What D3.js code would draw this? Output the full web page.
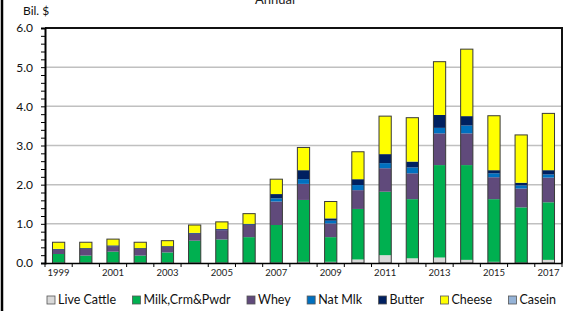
<!DOCTYPE html>
<html>
<head>
<meta charset="utf-8">
<script src="https://cdn.jsdelivr.net/npm/d3@7"></script>
<style>
  body { margin: 0; background: #fff; }
  svg { display: block; font-family: Lato, 'Open Sans', sans-serif; }
</style>
</head>
<body>
<svg width="565" height="311"></svg>
<script>
const years = ['1999', '2000', '2001', '2002', '2003', '2004', '2005', '2006', '2007', '2008',
  '2009', '2010', '2011', '2012', '2013', '2014', '2015', '2016', '2017'];

// billions of dollars, stacked bottom to top
const liveCattle = [0.01, 0.01, 0.01, 0.01, 0.01, 0.01, 0.01, 0.01, 0.01, 0.03, 0.03, 0.09, 0.20, 0.12, 0.14, 0.08, 0.03, 0.01, 0.08];
const milkCrmPwdr = [0.22, 0.18, 0.28, 0.18, 0.26, 0.56, 0.59, 0.65, 0.96, 1.58, 0.63, 1.29, 1.62, 1.51, 2.36, 2.42, 1.60, 1.41, 1.47];
const whey = [0.11, 0.17, 0.13, 0.17, 0.14, 0.17, 0.24, 0.31, 0.60, 0.41, 0.35, 0.48, 0.60, 0.66, 0.81, 0.81, 0.56, 0.48, 0.63];
const natMlk = [0.00, 0.00, 0.00, 0.00, 0.00, 0.01, 0.01, 0.01, 0.08, 0.12, 0.07, 0.13, 0.13, 0.15, 0.14, 0.20, 0.10, 0.08, 0.08];
const butter = [0.02, 0.02, 0.03, 0.02, 0.02, 0.02, 0.02, 0.02, 0.11, 0.23, 0.06, 0.15, 0.23, 0.15, 0.33, 0.24, 0.08, 0.07, 0.11];
const cheese = [0.17, 0.15, 0.16, 0.15, 0.14, 0.20, 0.18, 0.26, 0.38, 0.58, 0.43, 0.70, 0.97, 1.12, 1.36, 1.71, 1.39, 1.22, 1.45];
const casein = [0, 0, 0, 0, 0, 0, 0, 0, 0, 0, 0, 0, 0, 0, 0, 0, 0, 0, 0];

const seriesNames = ['Live Cattle', 'Milk,Crm&Pwdr', 'Whey', 'Nat Mlk', 'Butter', 'Cheese', 'Casein'];
const seriesValues = [liveCattle, milkCrmPwdr, whey, natMlk, butter, cheese, casein];
const colors = ['#d9d9d9', '#00b050', '#604a7b', '#0070c0', '#002060', '#ffff00', '#95b3d7'];

const yTicks = [0, 1, 2, 3, 4, 5, 6];

const plotLeft = 45, plotRight = 562, plotTop = 28, plotBottom = 263;

const svg = d3.select('svg');

const rows = years.map((yr, i) => {
  const r = { year: yr };
  seriesNames.forEach((n, k) => { r[n] = seriesValues[k][i]; });
  return r;
});

const stack = d3.stack().keys(seriesNames)(rows);

const x = d3.scaleBand()
  .domain(years)
  .range([plotLeft, plotRight])
  .paddingInner(0.55)
  .paddingOuter(0.275);

const y = d3.scaleLinear()
  .domain([0, 6])
  .range([plotBottom, plotTop]);

const color = d3.scaleOrdinal().domain(seriesNames).range(colors);

// outer chart border (left edge only visible)
svg.append('line')
  .attr('x1', 2).attr('x2', 2).attr('y1', 0).attr('y2', 311)
  .attr('stroke', '#000').attr('stroke-width', 2.5);

// title, cut at the top
svg.append('text')
  .attr('x', 275).attr('y', 4)
  .attr('text-anchor', 'middle')
  .attr('font-size', 13)
  .attr('fill', '#222')
  .text('Annual');

svg.append('text')
  .attr('x', 23).attr('y', 15)
  .attr('font-size', 12)
  .attr('fill', '#111')
  .text('Bil. $');

// grid
svg.append('g')
  .selectAll('line')
  .data(yTicks.filter(d => d > 0 && d < 6))
  .enter().append('line')
  .attr('x1', plotLeft).attr('x2', plotRight)
  .attr('y1', d => y(d)).attr('y2', d => y(d))
  .attr('stroke', '#c0c0c0').attr('stroke-width', 1.5);

// bars
const barGroups = svg.append('g')
  .selectAll('g')
  .data(stack)
  .enter().append('g')
  .attr('fill', d => color(d.key));

barGroups.selectAll('rect')
  .data(d => d)
  .enter().append('rect')
  .attr('x', d => x(d.data.year))
  .attr('width', x.bandwidth())
  .attr('y', d => y(d[1]))
  .attr('height', d => y(d[0]) - y(d[1]));

// bar outlines
svg.append('g')
  .selectAll('rect')
  .data(rows)
  .enter().append('rect')
  .attr('x', d => x(d.year))
  .attr('width', x.bandwidth())
  .attr('y', d => y(d3.sum(seriesNames, n => d[n])))
  .attr('height', d => plotBottom - y(d3.sum(seriesNames, n => d[n])))
  .attr('fill', 'none')
  .attr('stroke', '#3a3a3a')
  .attr('stroke-width', 1);

// frame top and right
svg.append('path')
  .attr('d', `M${plotLeft},${plotTop}H${plotRight}V${plotBottom}`)
  .attr('fill', 'none')
  .attr('stroke', '#111')
  .attr('stroke-width', 2);

// y axis with minor ticks
const minor = d3.range(0, 30.5).map(i => i / 5);
const yAxis = svg.append('g')
  .attr('transform', `translate(${plotLeft},0)`)
  .call(d3.axisLeft(y)
    .tickValues(minor)
    .tickSize(4)
    .tickPadding(8)
    .tickFormat(d => Math.abs(d - Math.round(d)) < 1e-6 ? d.toFixed(1) : ''));
yAxis.select('.domain').attr('stroke', '#000').attr('stroke-width', 2);
yAxis.selectAll('.tick line').attr('stroke', '#000').attr('stroke-width', 1);
yAxis.selectAll('.tick text')
  .attr('font-size', 12)
  .attr('font-family', 'Lato, sans-serif')
  .attr('fill', '#111');

// x axis
const xAxis = svg.append('g')
  .attr('transform', `translate(0,${plotBottom})`)
  .call(d3.axisBottom(x)
    .tickSize(0)
    .tickPadding(6)
    .tickFormat((d, i) => i % 2 === 0 ? d : ''));
xAxis.select('.domain').attr('stroke', '#000').attr('stroke-width', 1.5);
xAxis.selectAll('.tick text')
  .attr('font-size', 9.5)
  .attr('font-family', 'Lato, sans-serif')
  .attr('fill', '#222');

// category boundary ticks
const gap = (x.step() - x.bandwidth()) / 2;
const edges = years.map(d => x(d) - gap).concat([plotRight]);
svg.append('g')
  .selectAll('line')
  .data(edges)
  .enter().append('line')
  .attr('x1', d => d).attr('x2', d => d)
  .attr('y1', plotBottom).attr('y2', plotBottom + 4)
  .attr('stroke', '#000');

// legend
const legendY = 300;
const legend = svg.append('g');
const items = legend.selectAll('g')
  .data(seriesNames)
  .enter().append('g');

items.append('rect')
  .attr('width', 8).attr('height', 8)
  .attr('y', legendY - 4)
  .attr('fill', d => color(d))
  .attr('stroke', '#555').attr('stroke-width', 0.8);

items.append('text')
  .attr('x', 11)
  .attr('y', legendY)
  .attr('dy', '0.35em')
  .attr('font-size', 12.5)
  .attr('fill', '#111')
  .text(d => d);

const widths = [];
items.each(function () {
  widths.push(11 + d3.select(this).select('text').node().getComputedTextLength());
});
const legendLeft = 47, legendRight = 556;
const spacing = (legendRight - legendLeft - d3.sum(widths)) / (widths.length - 1);
let cx = legendLeft;
items.attr('transform', (d, i) => {
  const t = `translate(${cx},0)`;
  cx += widths[i] + spacing;
  return t;
});
</script>
</body>
</html>
